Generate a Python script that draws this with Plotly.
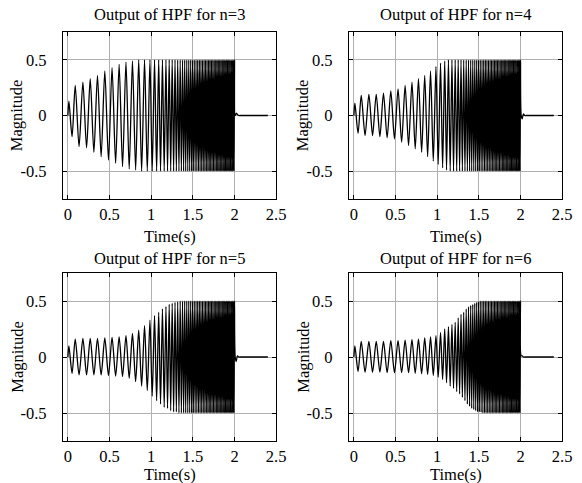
import plotly.graph_objects as go

# ---- data ----
# times (s) of the visible peaks and troughs of the filtered chirp (shared by all panels)
peak_times = [0.012, 0.088, 0.180, 0.268, 0.355, 0.443, 0.530, 0.615, 0.697, 0.775,
              0.850, 0.920, 0.985, 1.040, 1.090, 1.135, 1.177, 1.216, 1.252, 1.286,
              1.318, 1.348, 1.376, 1.402, 1.427, 1.451, 1.474, 1.496, 1.517, 1.538,
              1.558, 1.578, 1.597, 1.616, 1.635, 1.653, 1.671, 1.689, 1.706, 1.723,
              1.740, 1.757, 1.774, 1.790, 1.806, 1.822, 1.838, 1.854, 1.870, 1.885,
              1.900, 1.915, 1.930, 1.945, 1.960, 1.974, 1.988, 2.000]
trough_times = [0.050, 0.134, 0.224, 0.312, 0.399, 0.487, 0.573, 0.656, 0.736, 0.813,
                0.885, 0.953, 1.012, 1.065, 1.112, 1.156, 1.196, 1.234, 1.269, 1.302,
                1.333, 1.362, 1.389, 1.414, 1.439, 1.462, 1.485, 1.506, 1.527, 1.548,
                1.568, 1.587, 1.606, 1.625, 1.644, 1.662, 1.680, 1.697, 1.714, 1.731,
                1.748, 1.765, 1.782, 1.798, 1.814, 1.830, 1.846, 1.862, 1.877, 1.892,
                1.907, 1.922, 1.937, 1.952, 1.967, 1.981, 1.994]
start_time = [0.0]
tail_times = [2.008, 2.020, 2.035, 2.050, 2.065, 2.080, 2.400]

# n = 3
start_n3 = [0.0]
peaks_n3 = [0.13, 0.27, 0.30, 0.33, 0.36, 0.40, 0.43, 0.46, 0.48, 0.49,
            0.50, 0.50, 0.50, 0.50, 0.50, 0.50, 0.50, 0.50, 0.50, 0.50,
            0.50, 0.50, 0.50, 0.50, 0.50, 0.50, 0.50, 0.50, 0.50, 0.50,
            0.50, 0.50, 0.50, 0.50, 0.50, 0.50, 0.50, 0.50, 0.50, 0.50,
            0.50, 0.50, 0.50, 0.50, 0.50, 0.50, 0.50, 0.50, 0.50, 0.50,
            0.50, 0.50, 0.50, 0.50, 0.50, 0.50, 0.50, 0.50]
troughs_n3 = [-0.19, -0.28, -0.29, -0.33, -0.37, -0.40, -0.43, -0.46, -0.48, -0.49,
              -0.50, -0.50, -0.50, -0.50, -0.50, -0.50, -0.50, -0.50, -0.50, -0.50,
              -0.50, -0.50, -0.50, -0.50, -0.50, -0.50, -0.50, -0.50, -0.50, -0.50,
              -0.50, -0.50, -0.50, -0.50, -0.50, -0.50, -0.50, -0.50, -0.50, -0.50,
              -0.50, -0.50, -0.50, -0.50, -0.50, -0.50, -0.50, -0.50, -0.50, -0.50,
              -0.50, -0.50, -0.50, -0.50, -0.50, -0.50, -0.50]
tail_n3 = [0.0, 0.02, 0.01, 0.0, 0.0, 0.0, 0.0]

# n = 4
start_n4 = [0.0]
peaks_n4 = [0.11, 0.18, 0.19, 0.19, 0.20, 0.22, 0.24, 0.27, 0.30, 0.33,
            0.36, 0.40, 0.44, 0.47, 0.49, 0.50, 0.50, 0.50, 0.50, 0.50,
            0.50, 0.50, 0.50, 0.50, 0.50, 0.50, 0.50, 0.50, 0.50, 0.50,
            0.50, 0.50, 0.50, 0.50, 0.50, 0.50, 0.50, 0.50, 0.50, 0.50,
            0.50, 0.50, 0.50, 0.50, 0.50, 0.50, 0.50, 0.50, 0.50, 0.50,
            0.50, 0.50, 0.50, 0.50, 0.50, 0.50, 0.50, 0.50]
troughs_n4 = [-0.16, -0.18, -0.18, -0.19, -0.20, -0.21, -0.24, -0.27, -0.30, -0.33,
              -0.37, -0.41, -0.44, -0.47, -0.49, -0.50, -0.50, -0.50, -0.50, -0.50,
              -0.50, -0.50, -0.50, -0.50, -0.50, -0.50, -0.50, -0.50, -0.50, -0.50,
              -0.50, -0.50, -0.50, -0.50, -0.50, -0.50, -0.50, -0.50, -0.50, -0.50,
              -0.50, -0.50, -0.50, -0.50, -0.50, -0.50, -0.50, -0.50, -0.50, -0.50,
              -0.50, -0.50, -0.50, -0.50, -0.50, -0.50, -0.50]
tail_n4 = [0.0, -0.03, 0.015, 0.0, 0.0, 0.0, 0.0]

# n = 5
start_n5 = [0.0]
peaks_n5 = [0.10, 0.16, 0.165, 0.165, 0.165, 0.17, 0.175, 0.18, 0.19, 0.21,
            0.24, 0.28, 0.33, 0.37, 0.40, 0.43, 0.45, 0.47, 0.48, 0.49,
            0.495, 0.50, 0.50, 0.50, 0.50, 0.50, 0.50, 0.50, 0.50, 0.50,
            0.50, 0.50, 0.50, 0.50, 0.50, 0.50, 0.50, 0.50, 0.50, 0.50,
            0.50, 0.50, 0.50, 0.50, 0.50, 0.50, 0.50, 0.50, 0.50, 0.50,
            0.50, 0.50, 0.50, 0.50, 0.50, 0.50, 0.50, 0.50]
troughs_n5 = [-0.145, -0.16, -0.16, -0.16, -0.16, -0.165, -0.17, -0.175, -0.19, -0.22,
              -0.26, -0.30, -0.35, -0.39, -0.42, -0.45, -0.46, -0.48, -0.49, -0.49,
              -0.50, -0.50, -0.50, -0.50, -0.50, -0.50, -0.50, -0.50, -0.50, -0.50,
              -0.50, -0.50, -0.50, -0.50, -0.50, -0.50, -0.50, -0.50, -0.50, -0.50,
              -0.50, -0.50, -0.50, -0.50, -0.50, -0.50, -0.50, -0.50, -0.50, -0.50,
              -0.50, -0.50, -0.50, -0.50, -0.50, -0.50, -0.50]
tail_n5 = [0.0, -0.04, 0.01, 0.0, 0.0, 0.0, 0.0]

# n = 6
start_n6 = [0.0]
peaks_n6 = [0.10, 0.14, 0.14, 0.14, 0.14, 0.145, 0.145, 0.15, 0.155, 0.16,
            0.17, 0.18, 0.19, 0.22, 0.25, 0.27, 0.29, 0.31, 0.35, 0.38,
            0.40, 0.43, 0.45, 0.46, 0.47, 0.48, 0.49, 0.495, 0.50, 0.50,
            0.50, 0.50, 0.50, 0.50, 0.50, 0.50, 0.50, 0.50, 0.50, 0.50,
            0.50, 0.50, 0.50, 0.50, 0.50, 0.50, 0.50, 0.50, 0.50, 0.50,
            0.50, 0.50, 0.50, 0.50, 0.50, 0.50, 0.50, 0.50]
troughs_n6 = [-0.13, -0.135, -0.135, -0.135, -0.14, -0.14, -0.14, -0.14, -0.145, -0.15,
              -0.155, -0.165, -0.18, -0.20, -0.23, -0.26, -0.28, -0.31, -0.33, -0.36,
              -0.39, -0.42, -0.44, -0.46, -0.47, -0.48, -0.49, -0.49, -0.495, -0.50,
              -0.50, -0.50, -0.50, -0.50, -0.50, -0.50, -0.50, -0.50, -0.50, -0.50,
              -0.50, -0.50, -0.50, -0.50, -0.50, -0.50, -0.50, -0.50, -0.50, -0.50,
              -0.50, -0.50, -0.50, -0.50, -0.50, -0.50, -0.50]
tail_n6 = [0.01, 0.01, 0.0, 0.0, 0.0, 0.0, 0.0]

orders = ["3", "4", "5", "6"]
x_tickvals = [0, 0.5, 1, 1.5, 2, 2.5]
x_ticktext = ["0", "0.5", "1", "1.5", "2", "2.5"]
y_tickvals = [-0.5, 0, 0.5]
y_ticktext = ["-0.5", "0", "0.5"]

series = [
    (start_n3, peaks_n3, troughs_n3, tail_n3),
    (start_n4, peaks_n4, troughs_n4, tail_n4),
    (start_n5, peaks_n5, troughs_n5, tail_n5),
    (start_n6, peaks_n6, troughs_n6, tail_n6),
]

# ---- layout geometry (pixels) ----
W, H = 582, 483
col_px = [(64, 281), (355, 572)]
row_px = [(32, 199), (273, 441)]
title_dy = [17, 15]
xlabel_dy = [37, 33]

FONT = "Liberation Serif"
FS = 16.5

fig = go.Figure()
annotations = []

for i, (start, peaks, troughs, tail) in enumerate(series):
    xs, ys = list(start_time), list(start)
    for k in range(len(peak_times)):
        xs.append(peak_times[k]); ys.append(peaks[k])
        if k < len(trough_times):
            xs.append(trough_times[k]); ys.append(troughs[k])
    xs += tail_times
    ys += tail
    ax = "" if i == 0 else str(i + 1)
    fig.add_trace(go.Scatter(x=xs, y=ys, mode="lines",
                             line=dict(color="black", width=1.3, shape="spline", smoothing=0.8),
                             xaxis="x" + ax, yaxis="y" + ax,
                             showlegend=False, hoverinfo="skip"))
    r, c = divmod(i, 2)
    x0, x1 = col_px[c]
    y0, y1 = row_px[r]
    common = dict(ticks="inside", ticklen=4, tickcolor="black",
                  showline=True, linecolor="black", linewidth=1,
                  mirror="allticks", showgrid=True, gridcolor="#b0b0b0",
                  gridwidth=1, zeroline=False,
                  tickfont=dict(family=FONT, size=FS, color="black"))
    fig.update_layout(**{
        "xaxis" + ax: dict(domain=[x0 / W, x1 / W], range=[-0.06, 2.5],
                           tickvals=x_tickvals, ticktext=x_ticktext,
                           anchor="y" + ax, ticklabelstandoff=0, **common),
        "yaxis" + ax: dict(domain=[1 - y1 / H, 1 - y0 / H], range=[-0.75, 0.75],
                           tickvals=y_tickvals, ticktext=y_ticktext,
                           anchor="x" + ax, ticklabelstandoff=12, **common),
    })
    cx = (x0 + x1) / 2
    annotations.append(dict(text="Output of HPF for n=" + orders[i],
                            x=cx / W, y=1 - (y0 - title_dy[r]) / H, xref="paper", yref="paper",
                            showarrow=False, xanchor="center", yanchor="middle",
                            font=dict(family=FONT, size=FS, color="black")))
    annotations.append(dict(text="Time(s)", x=cx / W, y=1 - (y1 + xlabel_dy[r]) / H,
                            xref="paper", yref="paper", showarrow=False,
                            xanchor="center", yanchor="middle",
                            font=dict(family=FONT, size=FS, color="black")))
    annotations.append(dict(text="Magnitude", x=(x0 - 47) / W, y=1 - ((y0 + y1) / 2) / H,
                            xref="paper", yref="paper", showarrow=False, textangle=-90,
                            xanchor="center", yanchor="middle",
                            font=dict(family=FONT, size=FS, color="black")))

fig.update_layout(width=W, height=H, margin=dict(l=0, r=0, t=0, b=0),
                  paper_bgcolor="white", plot_bgcolor="white",
                  annotations=annotations)

fig.write_html("out.html")
